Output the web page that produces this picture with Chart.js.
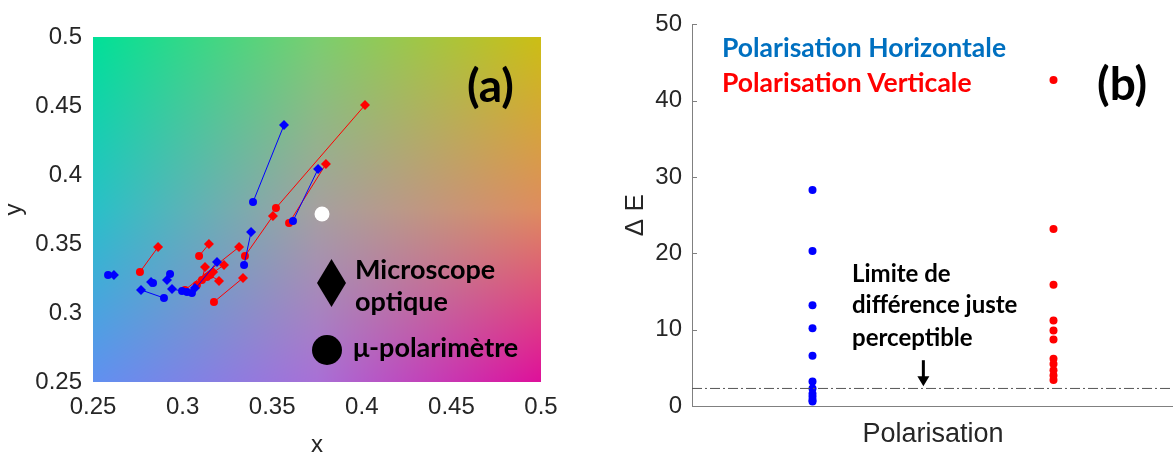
<!DOCTYPE html>
<html>
<head>
<meta charset="utf-8">
<script src="https://cdn.jsdelivr.net/npm/chart.js@4.4.1/dist/chart.umd.min.js"></script>
<style>
  body { margin: 0; background: #fff; }
  #wrap { position: relative; width: 1173px; height: 457px; overflow: hidden; }
  #boxA { position: absolute; left: 0; top: 0; width: 590px; height: 457px; }
  #boxB { position: absolute; left: 590px; top: 0; width: 588px; height: 457px; }
  .note { position: absolute; font-family: Lato, "Open Sans", sans-serif; font-weight: 700; line-height: 1.2; white-space: nowrap; color: #000; }
  .sym { position: absolute; background: #000; }
</style>
</head>
<body>
<div id="wrap">
  <div id="boxA"><canvas id="chartA" width="590" height="457"></canvas></div>
  <div id="boxB"><canvas id="chartB" width="588" height="457"></canvas></div>

  <div class="note" style="left:467px; top:57px; font-size:46px;">(a)</div>
  <div class="sym" style="left:317px; top:259px; width:29px; height:48px; clip-path:polygon(50% 0,100% 50%,50% 100%,0 50%);"></div>
  <div class="note" style="left:355px; top:253px; font-size:27px;">Microscope</div>
  <div class="note" style="left:355px; top:285px; font-size:27px;">optique</div>
  <div class="sym" style="left:312px; top:335px; width:30px; height:30px; border-radius:50%;"></div>
  <div class="note" style="left:353px; top:331px; font-size:27px;">μ-polarimètre</div>

  <div class="note" style="left:722px; top:32px; font-size:26.5px; color:#0070C0;">Polarisation Horizontale</div>
  <div class="note" style="left:722px; top:67px; font-size:26.5px; color:#FF0000;">Polarisation Verticale</div>
  <div class="note" style="left:1097px; top:55px; font-size:46px;">(b)</div>
  <div class="note" style="left:852px; top:259px; font-size:24px;">Limite de</div>
  <div class="note" style="left:852px; top:290px; font-size:24px;">différence juste</div>
  <div class="note" style="left:852px; top:323px; font-size:24px;">perceptible</div>
</div>
<script>
// ---- panel (a): chromaticity coordinates, microscope (diamond) -> polarimeter (circle)
const blueMicroX = [0.3566, 0.3756, 0.3382, 0.3192, 0.2617, 0.2913, 0.2824, 0.2768, 0.2941, 0.3069];
const blueMicroY = [0.4362, 0.4043, 0.3587, 0.3370, 0.3275, 0.3239, 0.3225, 0.3167, 0.3174, 0.3181];
const bluePolX   = [0.3393, 0.3616, 0.3343, 0.3052, 0.2584, 0.2930, 0.2835, 0.2896, 0.2997, 0.3025];
const bluePolY   = [0.3804, 0.3667, 0.3348, 0.3145, 0.3275, 0.3283, 0.3217, 0.3109, 0.3159, 0.3152];

const redMicroX = [0.4018, 0.3800, 0.3504, 0.3315, 0.3337, 0.2863, 0.3147, 0.3231, 0.3203, 0.3125, 0.3170];
const redMicroY = [0.4507, 0.4080, 0.3703, 0.3478, 0.3254, 0.3478, 0.3500, 0.3348, 0.3232, 0.3333, 0.3297];
const redPolX   = [0.3521, 0.3594, 0.3348, 0.3013, 0.3175, 0.2762, 0.3092, 0.3136, 0.3153, 0.3108, 0.3080];
const redPolY   = [0.3761, 0.3652, 0.3413, 0.3167, 0.3080, 0.3297, 0.3413, 0.3261, 0.3275, 0.3239, 0.3203];

const whitePoint = { x: 0.3778, y: 0.3717 };

const xyTickValues = [0.25, 0.3, 0.35, 0.4, 0.45, 0.5];
const xyTickLabels = ['0.25', '0.3', '0.35', '0.4', '0.45', '0.5'];

// ---- panel (b): colour difference per polarisation
const blueDeltaE = [28.3, 20.3, 13.2, 10.2, 6.6, 3.2, 2.3, 1.6, 1.2, 0.8, 0.6];
const redDeltaE  = [42.7, 23.2, 15.9, 11.2, 9.9, 8.7, 6.2, 5.5, 4.7, 4.0, 3.4];
const groupX = [1, 3];
const jnd = 2.3;
const deltaTickValues = [0, 10, 20, 30, 40, 50];
const arrowX = 1.92, arrowFrom = 6.0, arrowTo = 2.6;

// background colour field for panel (a), rows top->bottom, cols left->right
const bgGrid = [
  [[0, 224, 152], [122, 206, 112], [204, 190, 20]],
  [[40, 192, 200], [165, 160, 160], [222, 140, 95]],
  [[96, 144, 240], [168, 112, 214], [222, 16, 154]]
];

const tickFont = { family: '"Liberation Sans", Arial, sans-serif', size: 24 };
const tickColor = '#262626';

function pairDatasets(mx, my, px, py, color) {
  return mx.map((v, i) => ({
    data: [{ x: v, y: my[i] }, { x: px[i], y: py[i] }],
    showLine: true,
    borderColor: color,
    backgroundColor: color,
    borderWidth: 1,
    pointStyle: ['rectRot', 'circle'],
    pointRadius: [5, 4],
    pointBorderWidth: 0
  }));
}

const bgPlugin = {
  id: 'bg',
  beforeDatasetsDraw(chart) {
    const { ctx, chartArea: a } = chart;
    const w = Math.round(a.right - a.left), h = Math.round(a.bottom - a.top);
    const img = ctx.createImageData(w, h);
    for (let j = 0; j < h; j++) {
      const v = j / (h - 1) * 2;
      const r0 = Math.min(Math.floor(v), 1), fv = v - r0;
      for (let i = 0; i < w; i++) {
        const u = i / (w - 1) * 2;
        const c0 = Math.min(Math.floor(u), 1), fu = u - c0;
        const p = (j * w + i) * 4;
        for (let k = 0; k < 3; k++) {
          const t = bgGrid[r0][c0][k] * (1 - fu) + bgGrid[r0][c0 + 1][k] * fu;
          const b = bgGrid[r0 + 1][c0][k] * (1 - fu) + bgGrid[r0 + 1][c0 + 1][k] * fu;
          img.data[p + k] = t * (1 - fv) + b * fv;
        }
        img.data[p + 3] = 255;
      }
    }
    ctx.putImageData(img, Math.round(a.left), Math.round(a.top));
  }
};

new Chart('chartA', {
  type: 'scatter',
  data: {
    datasets: [
      ...pairDatasets(blueMicroX, blueMicroY, bluePolX, bluePolY, '#0000FF'),
      ...pairDatasets(redMicroX, redMicroY, redPolX, redPolY, '#FF0000'),
      { data: [whitePoint], backgroundColor: '#FFFFFF', pointRadius: 7.5, pointBorderWidth: 0 }
    ]
  },
  options: {
    responsive: false,
    animation: false,
    layout: { padding: { left: 0, top: 37, right: 49, bottom: 0 } },
    plugins: { legend: { display: false }, tooltip: { enabled: false } },
    scales: {
      x: {
        type: 'linear', min: 0.25, max: 0.5,
        afterBuildTicks: s => { s.ticks = xyTickValues.map(v => ({ value: v })); },
        afterFit: s => { s.height = 75; },
        ticks: { font: tickFont, color: tickColor, padding: 11, maxRotation: 0,
                 callback: (v, i) => xyTickLabels[i] },
        grid: { display: false, drawTicks: false },
        border: { display: false },
        title: { display: true, text: 'x', font: { family: tickFont.family, size: 24, lineHeight: 1 }, color: tickColor, padding: 0 }
      },
      y: {
        type: 'linear', min: 0.25, max: 0.5,
        afterBuildTicks: s => { s.ticks = xyTickValues.map(v => ({ value: v })); },
        afterFit: s => { s.width = 93; },
        ticks: { font: tickFont, color: tickColor, padding: 11,
                 callback: (v, i) => xyTickLabels[i] },
        grid: { display: false, drawTicks: false },
        border: { display: false },
        title: { display: true, text: 'y', font: { family: tickFont.family, size: 24 }, color: tickColor, padding: 0 }
      }
    }
  },
  plugins: [bgPlugin]
});

const extrasPlugin = {
  id: 'extras',
  afterDatasetsDraw(chart) {
    const { ctx, chartArea: a, scales: { x, y } } = chart;
    ctx.save();
    // inward tick marks on the left axis
    ctx.strokeStyle = '#808080';
    ctx.lineWidth = 1;
    deltaTickValues.forEach(v => {
      const py = Math.round(y.getPixelForValue(v)) + 0.5;
      ctx.beginPath(); ctx.moveTo(a.left, py); ctx.lineTo(a.left + 5, py); ctx.stroke();
    });
    // arrow pointing at the threshold line
    const px = x.getPixelForValue(arrowX);
    const y0 = y.getPixelForValue(arrowFrom), y1 = y.getPixelForValue(arrowTo);
    ctx.strokeStyle = '#000'; ctx.fillStyle = '#000'; ctx.lineWidth = 3;
    ctx.beginPath(); ctx.moveTo(px, y0); ctx.lineTo(px, y1 - 8); ctx.stroke();
    ctx.beginPath(); ctx.moveTo(px - 6, y1 - 10); ctx.lineTo(px + 6, y1 - 10); ctx.lineTo(px, y1); ctx.closePath(); ctx.fill();
    ctx.restore();
  }
};

new Chart('chartB', {
  type: 'scatter',
  data: {
    datasets: [
      { data: [{ x: 0, y: jnd }, { x: 4, y: jnd }], showLine: true, borderColor: '#555555', borderWidth: 1,
        borderDash: [10, 3, 2, 3], pointRadius: 0 },
      { data: blueDeltaE.map(v => ({ x: groupX[0], y: v })), backgroundColor: '#0000FF', pointRadius: 4, pointBorderWidth: 0 },
      { data: redDeltaE.map(v => ({ x: groupX[1], y: v })), backgroundColor: '#FF0000', pointRadius: 4, pointBorderWidth: 0 }
    ]
  },
  options: {
    responsive: false,
    animation: false,
    layout: { padding: { left: 30, top: 22, right: 0, bottom: 0 } },
    plugins: { legend: { display: false }, tooltip: { enabled: false } },
    scales: {
      x: {
        type: 'linear', min: 0, max: 4,
        afterFit: s => { s.height = 51; },
        ticks: { display: false },
        grid: { display: false, drawTicks: false },
        border: { display: true, color: '#808080', width: 1 },
        title: { display: true, text: 'Polarisation', font: { family: tickFont.family, size: 27 }, color: tickColor, padding: { top: 0, bottom: 6 } }
      },
      y: {
        type: 'linear', min: 0, max: 50,
        afterBuildTicks: s => { s.ticks = deltaTickValues.map(v => ({ value: v })); },
        afterFit: s => { s.width = 72; },
        ticks: { font: tickFont, color: tickColor, padding: 10 },
        grid: { display: false, drawTicks: false },
        border: { display: true, color: '#808080', width: 1 },
        title: { display: true, text: 'Δ E', font: { family: tickFont.family, size: 26 }, color: tickColor, padding: 0 }
      }
    }
  },
  plugins: [extrasPlugin]
});
</script>
</body>
</html>
